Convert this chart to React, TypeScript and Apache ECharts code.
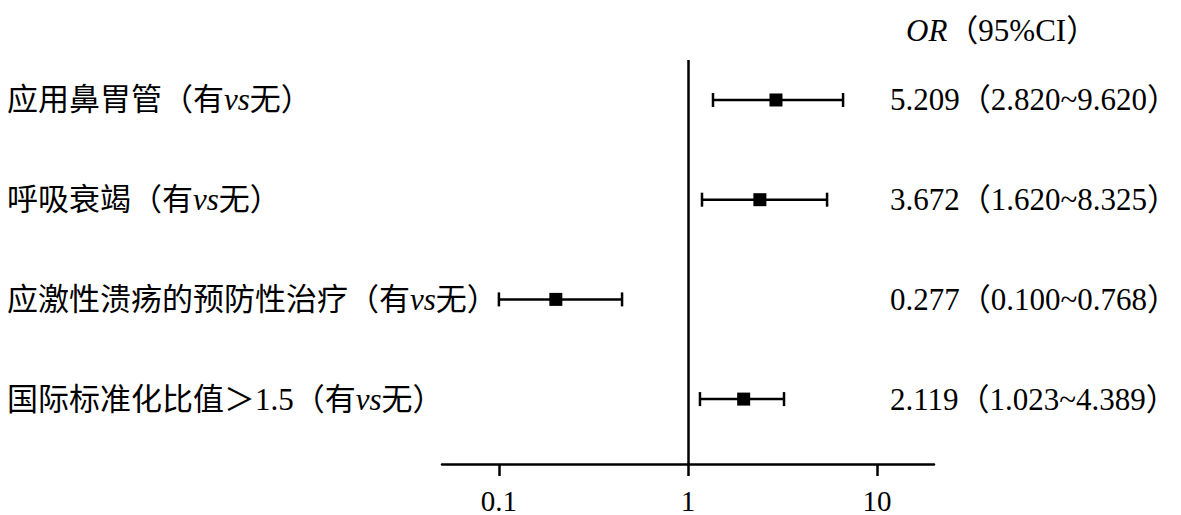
import { useEffect, useRef } from "react";
import * as echarts from "echarts";

const factorNames = ["应用鼻胃管", "呼吸衰竭", "应激性溃疡的预防性治疗", "国际标准化比值＞1.5"];
const orEstimate = [2.92, 2.4, 0.2, 1.97];
const ciLower = [1.356, 1.186, 0.1, 1.157];
const ciUpper = [6.61, 5.44, 0.448, 3.22];
const orLabels = [
  "5.209（2.820~9.620）",
  "3.672（1.620~8.325）",
  "0.277（0.100~0.768）",
  "2.119（1.023~4.389）",
];
const rowIndex = [0, 1, 2, 3];
const xTickValues = [0.1, 1, 10];
const xTickLabels = ["0.1", "1", "10"];
const xMin = 0.05;
const xMax = 20;
const refValue = 1;
const headerTitle = "OR";
const headerRest = "（95%CI）";

const FONT = "'Liberation Serif', 'Noto Sans CJK SC', serif";
const FS_TICK = 29;
const FS_LEFT = 31;
const FS_RIGHT = 31;

export default function App() {
  const ref = useRef<HTMLDivElement>(null);
  useEffect(() => {
    if (!ref.current) return;
    const chart = echarts.init(ref.current, null, { renderer: "svg" });
    const barData = rowIndex.map((i) => [ciLower[i], ciUpper[i], i]);
    const pointData = rowIndex.map((i) => [orEstimate[i], i]);
    const option: any = {
      animation: false,
      backgroundColor: "#fff",
      title: {
        text: `{i|${headerTitle}}{n|${headerRest}}`,
        left: 906,
        top: 15,
        padding: 0,
        textStyle: {
          fontWeight: "normal",
          rich: {
            i: { fontFamily: FONT, fontSize: FS_RIGHT, fontStyle: "italic", fontWeight: "normal", color: "#000" },
            n: { fontFamily: FONT, fontSize: FS_RIGHT, fontWeight: "normal", color: "#000" },
          },
        },
      },
      grid: { left: 442, right: 246, top: 60, bottom: 51, containLabel: false },
      xAxis: {
        type: "log",
        logBase: 10,
        min: xMin,
        max: xMax,
        axisLine: { show: true, onZero: false, lineStyle: { color: "#000", width: 2.5 } },
        axisTick: {
          show: true,
          customValues: xTickValues,
          length: 12,
          lineStyle: { color: "#000", width: 2.5 },
        },
        axisLabel: {
          customValues: xTickValues,
          margin: 22,
          color: "#000",
          fontFamily: FONT,
          fontSize: FS_TICK,
          formatter: (v: number) => {
            const k = xTickValues.findIndex((t) => Math.abs(t - v) < 1e-9 * Math.max(1, t));
            return k >= 0 ? xTickLabels[k] : "";
          },
        },
        splitLine: { show: false },
      },
      yAxis: [
        {
          type: "value",
          inverse: true,
          min: -0.401,
          max: 3.651,
          axisLine: { show: false },
          axisTick: { show: false },
          splitLine: { show: false },
          axisLabel: {
            customValues: rowIndex,
            align: "left",
            margin: 435,
            formatter: (v: number) => {
              const i = Math.round(v);
              return `{n|${factorNames[i]}（有}{i|vs}{n|无）}`;
            },
            rich: {
              n: { fontFamily: FONT, fontSize: FS_LEFT, color: "#000" },
              i: { fontFamily: FONT, fontSize: FS_LEFT, fontStyle: "italic", color: "#000" },
            },
          },
        },
        {
          type: "value",
          position: "right",
          inverse: true,
          min: -0.401,
          max: 3.651,
          axisLine: { show: false },
          axisTick: { show: false },
          splitLine: { show: false },
          axisLabel: {
            customValues: rowIndex,
            align: "left",
            margin: -44,
            color: "#000",
            fontFamily: FONT,
            fontSize: FS_RIGHT,
            formatter: (v: number) => orLabels[Math.round(v)],
          },
        },
      ],
      series: [
        {
          type: "custom",
          yAxisIndex: 0,
          encode: { x: [0, 1], y: 2 },
          data: barData,
          renderItem: (_params: any, api: any) => {
            const lo = api.coord([api.value(0), api.value(2)]);
            const hi = api.coord([api.value(1), api.value(2)]);
            const cap = 7;
            const style = { stroke: "#000", lineWidth: 2.5 };
            return {
              type: "group",
              children: [
                { type: "line", shape: { x1: lo[0], y1: lo[1], x2: hi[0], y2: hi[1] }, style },
                { type: "line", shape: { x1: lo[0], y1: lo[1] - cap, x2: lo[0], y2: lo[1] + cap }, style },
                { type: "line", shape: { x1: hi[0], y1: hi[1] - cap, x2: hi[0], y2: hi[1] + cap }, style },
              ],
            };
          },
          z: 2,
        },
        {
          type: "scatter",
          yAxisIndex: 0,
          data: pointData,
          symbol: "rect",
          symbolSize: 13,
          itemStyle: { color: "#000", opacity: 1 },
          z: 3,
          markLine: {
            silent: true,
            symbol: ["none", "none"],
            label: { show: false },
            lineStyle: { color: "#000", width: 2.5, type: "solid" },
            data: [{ xAxis: refValue }],
          },
        },
      ],
    };
    chart.setOption(option);
    return () => chart.dispose();
  }, []);
  return (
    <div
      ref={ref}
      style={{ position: "fixed", left: 0, top: 0, width: 1181, height: 515, background: "#fff" }}
    />
  );
}
